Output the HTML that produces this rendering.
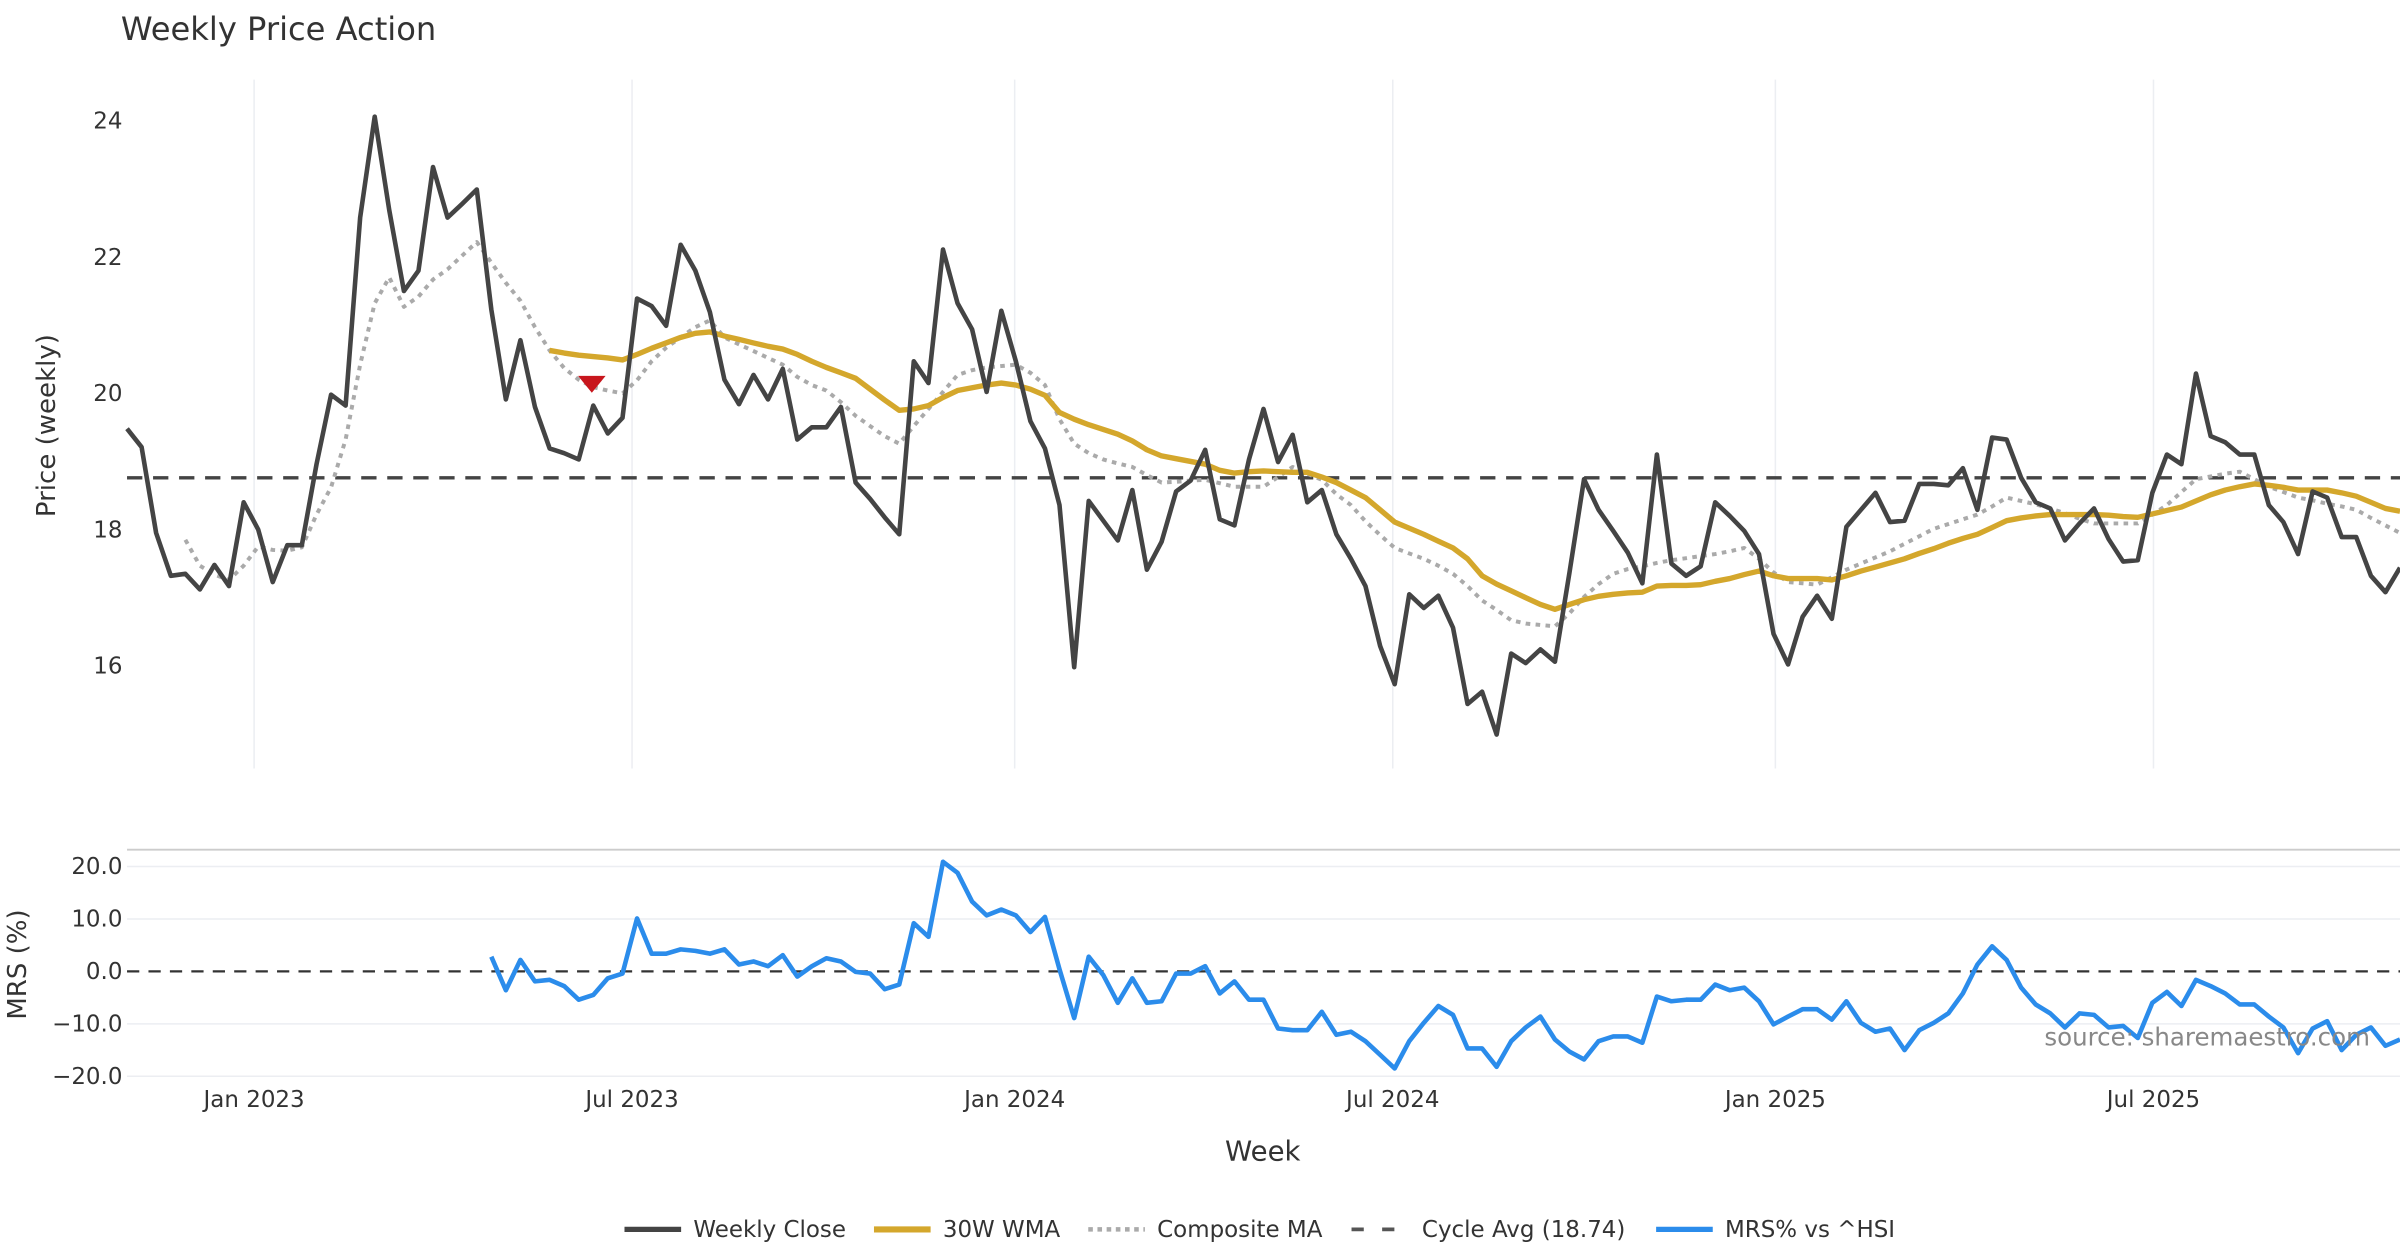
<!DOCTYPE html>
<html><head><meta charset="utf-8"><style>
html,body{margin:0;padding:0;background:#fff;}
svg{display:block;font-family:"DejaVu Sans","Liberation Sans",sans-serif;}
</style></head><body>
<svg id="chart" width="2400" height="1260" viewBox="0 0 1568 823" preserveAspectRatio="none" xmlns="http://www.w3.org/2000/svg">
<text x="79" y="26" font-size="21" fill="#333">Weekly Price Action</text>
<g id="grid"></g>
<g id="series"></g>
<text transform="translate(36,278) rotate(-90)" text-anchor="middle" font-size="17" fill="#333">Price (weekly)</text>
<text transform="translate(17,630) rotate(-90)" text-anchor="middle" font-size="17" fill="#333">MRS (%)</text>
<text x="825" y="758" text-anchor="middle" font-size="18" fill="#333">Week</text>
<text x="1442" y="683" text-anchor="middle" font-size="16" fill="#888">source: sharemaestro.com</text>
<g font-size="15" fill="#333">
<g><line x1="408" y1="803" x2="445" y2="803" stroke="#444" stroke-width="3.5"/><text x="453" y="808">Weekly Close</text></g>
<g><line x1="571" y1="803" x2="608" y2="803" stroke="#d4a72c" stroke-width="4"/><text x="616" y="808">30W WMA</text></g>
<g><line x1="711" y1="803" x2="748" y2="803" stroke="#aaa" stroke-width="3" stroke-dasharray="3,3"/><text x="756" y="808">Composite MA</text></g>
<g><line x1="883" y1="803" x2="920" y2="803" stroke="#555" stroke-width="2.5" stroke-dasharray="8,12"/><text x="929" y="808">Cycle Avg (18.74)</text></g>
<g><line x1="1082" y1="803" x2="1119" y2="803" stroke="#2b8ceb" stroke-width="3.5"/><text x="1127" y="808">MRS% vs ^HSI</text></g>
</g>
</svg>
<script>
const closeVals=[19.46,19.19,17.93,17.30,17.33,17.10,17.46,17.15,18.38,17.98,17.21,17.75,17.75,18.94,19.96,19.80,22.56,24.04,22.67,21.48,21.78,23.30,22.56,22.76,22.97,21.21,19.89,20.76,19.78,19.17,19.10,19.01,19.80,19.39,19.62,21.37,21.26,20.97,22.16,21.78,21.17,20.18,19.82,20.25,19.89,20.34,19.30,19.48,19.48,19.78,18.67,18.43,18.16,17.91,20.45,20.13,22.09,21.30,20.92,20.00,21.19,20.45,19.57,19.17,18.34,15.96,18.40,18.11,17.82,18.56,17.39,17.80,18.54,18.70,19.15,18.13,18.04,19.01,19.75,18.97,19.37,18.38,18.56,17.91,17.55,17.15,16.27,15.71,17.03,16.83,17.01,16.54,15.42,15.60,14.97,16.16,16.02,16.22,16.04,17.35,18.72,18.27,17.96,17.64,17.19,19.08,17.48,17.30,17.44,18.38,18.18,17.96,17.62,16.45,16.00,16.70,17.01,16.67,18.02,18.27,18.52,18.09,18.11,18.65,18.65,18.63,18.88,18.27,19.33,19.30,18.74,18.38,18.29,17.82,18.07,18.29,17.84,17.51,17.53,18.52,19.08,18.94,20.27,19.35,19.26,19.08,19.08,18.34,18.09,17.62,18.54,18.45,17.87,17.87,17.30,17.06,17.42];
const wmaStart=29;
const wmaVals=[20.61,20.57,20.54,20.52,20.50,20.47,20.55,20.64,20.72,20.80,20.86,20.88,20.82,20.77,20.72,20.67,20.63,20.55,20.45,20.36,20.28,20.20,20.04,19.88,19.73,19.75,19.80,19.92,20.02,20.06,20.10,20.13,20.10,20.04,19.95,19.70,19.60,19.52,19.45,19.38,19.28,19.15,19.06,19.02,18.98,18.94,18.85,18.81,18.83,18.84,18.83,18.82,18.82,18.75,18.67,18.56,18.45,18.27,18.09,18.00,17.91,17.81,17.71,17.55,17.30,17.18,17.08,16.98,16.88,16.81,16.88,16.95,17.00,17.03,17.05,17.06,17.15,17.16,17.16,17.17,17.22,17.26,17.32,17.37,17.30,17.26,17.26,17.26,17.24,17.30,17.37,17.43,17.49,17.55,17.63,17.70,17.78,17.85,17.91,18.01,18.11,18.15,18.18,18.20,18.20,18.20,18.20,18.19,18.17,18.16,18.21,18.26,18.31,18.40,18.49,18.56,18.61,18.65,18.63,18.60,18.56,18.56,18.56,18.52,18.47,18.38,18.29,18.25];
const compStart=4;
const compVals=[17.83,17.45,17.32,17.24,17.45,17.73,17.68,17.67,17.72,18.20,18.60,19.30,20.40,21.30,21.68,21.25,21.40,21.65,21.80,22.00,22.20,21.90,21.60,21.34,20.95,20.61,20.35,20.18,20.07,20.02,19.98,20.17,20.45,20.65,20.80,20.95,21.05,20.80,20.70,20.60,20.50,20.40,20.22,20.10,20.02,19.85,19.65,19.50,19.35,19.24,19.50,19.75,20.00,20.25,20.32,20.36,20.38,20.40,20.28,20.10,19.60,19.24,19.10,19.01,18.95,18.90,18.78,18.67,18.68,18.70,18.71,18.66,18.61,18.61,18.61,18.75,18.90,18.80,18.71,18.50,18.34,18.10,17.90,17.71,17.63,17.55,17.45,17.33,17.15,16.94,16.80,16.65,16.60,16.58,16.56,16.75,16.99,17.18,17.33,17.40,17.44,17.49,17.53,17.56,17.59,17.62,17.66,17.71,17.55,17.35,17.21,17.19,17.17,17.28,17.39,17.48,17.57,17.66,17.77,17.88,17.99,18.06,18.13,18.20,18.32,18.45,18.40,18.35,18.29,18.22,18.14,18.07,18.07,18.07,18.07,18.20,18.34,18.53,18.72,18.76,18.80,18.83,18.72,18.61,18.53,18.45,18.41,18.36,18.32,18.27,18.15,18.04,17.93];
const mrsVals=[2.8,-3.6,2.2,-1.9,-1.6,-2.8,-5.4,-4.5,-1.3,-0.4,10.1,3.4,3.4,4.2,3.9,3.4,4.2,1.3,1.9,1.0,3.1,-1.0,1.0,2.5,1.9,-0.1,-0.4,-3.4,-2.5,9.2,6.6,20.9,18.8,13.3,10.7,11.8,10.7,7.5,10.4,0.4,-8.9,2.8,-0.7,-6.0,-1.3,-6.0,-5.7,-0.4,-0.4,1.0,-4.2,-1.9,-5.4,-5.4,-10.9,-11.2,-11.2,-7.7,-12.1,-11.5,-13.3,-15.9,-18.5,-13.3,-9.8,-6.6,-8.3,-14.7,-14.7,-18.2,-13.3,-10.7,-8.6,-13.0,-15.3,-16.8,-13.3,-12.4,-12.4,-13.6,-4.8,-5.7,-5.4,-5.4,-2.5,-3.6,-3.1,-5.7,-10.1,-8.6,-7.2,-7.2,-9.2,-5.7,-9.8,-11.5,-10.9,-15.0,-11.2,-9.8,-8.0,-4.2,1.3,4.8,2.2,-3.1,-6.3,-8.0,-10.7,-8.0,-8.3,-10.7,-10.4,-12.7,-6.0,-3.9,-6.6,-1.6,-2.8,-4.2,-6.3,-6.3,-8.6,-10.7,-15.6,-10.9,-9.5,-15.0,-12.1,-10.7,-14.2,-13.0];
const cycleAvg=18.74;
const signalIndex=31.9, signalValue=20.1;
const priceTicks=[16,18,20,22,24];
const mrsTicks=[20,10,0,-10,-20];
const mrsTickLabels=["20.0","10.0","0.0","\u221210.0","\u221220.0"];
const dateTickIdx=[8.72,34.66,60.92,86.87,113.13,139.08];
const dateTickLabels=["Jan 2023","Jul 2023","Jan 2024","Jul 2024","Jan 2025","Jul 2025"];

const NS="http://www.w3.org/2000/svg";
const nWeeks=closeVals.length;
const stepW=1485/(nWeeks-1);
const X=i=>83+stepW*i;
const Y=v=>78+(24-v)*44.5;
const YM=v=>634.5-v*3.425;
function mk(tag,attrs,parent){const e=document.createElementNS(NS,tag);for(const k in attrs)e.setAttribute(k,attrs[k]);parent.appendChild(e);return e;}
const gridG=document.getElementById('grid'), ser=document.getElementById('series');

dateTickIdx.forEach((t,k)=>{
  const g=mk('line',{x1:X(t),x2:X(t),y1:52,y2:502,stroke:'#eceef2','stroke-width':1},gridG);
  
  
  const tx=mk('text',{x:X(t),y:723,'text-anchor':'middle','font-size':15,fill:'#333'},gridG);
  tx.textContent=dateTickLabels[k];
  
  
});
priceTicks.forEach(v=>{
  const tx=mk('text',{x:80,y:Y(v)+6,'text-anchor':'end','font-size':15,fill:'#333'},gridG);
  tx.textContent=v;
  
  
});
const panelTop=mk('line',{x1:83,x2:1568,y1:555,y2:555,stroke:'#ccc','stroke-width':1.2},gridG);


mrsTicks.forEach((v,k)=>{
  if(v!==0){const l=mk('line',{x1:83,x2:1568,y1:YM(v),y2:YM(v),stroke:'#eceef2','stroke-width':1},gridG);
  
  }
  const tx=mk('text',{x:80,y:YM(v)+5,'text-anchor':'end','font-size':15,fill:'#333'},gridG);
  tx.textContent=mrsTickLabels[k];
  
  
});
const zeroLine=mk('line',{x1:83,x2:1568,y1:YM(0),y2:YM(0),stroke:'#333','stroke-width':1.5,'stroke-dasharray':'8,6'},ser);


const cyc=mk('line',{x1:83,x2:1568,y1:Y(cycleAvg),y2:Y(cycleAvg),stroke:'#444','stroke-width':2.2,'stroke-dasharray':'10,7'},ser);



function drawPath(vals,start,yf,attrs,name){
  const d=vals.map((v,k)=>(k?'L':'M')+X(start+k).toFixed(1)+' '+yf(v).toFixed(1)).join(' ');
  const p=mk('path',Object.assign({d:d,fill:'none','stroke-linejoin':'round'},attrs),ser);
  
  
}
drawPath(compVals,compStart,Y,{stroke:'#aaa','stroke-width':2.6,'stroke-dasharray':'3,3.5'},'composite-ma-line');
drawPath(wmaVals,wmaStart,Y,{stroke:'#d4a72c','stroke-width':3.5},'wma-30w-line');
drawPath(closeVals,0,Y,{stroke:'#444','stroke-width':3},'weekly-close-line');
drawPath(mrsVals,nWeeks-mrsVals.length,YM,{stroke:'#2b8ceb','stroke-width':3},'mrs-line');
const sx=X(signalIndex), sy=Y(signalValue);
const tri=mk('polygon',{points:`${sx-9},${sy-6} ${sx+9},${sy-6} ${sx},${sy+5}`,fill:'#c8161d'},ser);


</script>
</body></html>
